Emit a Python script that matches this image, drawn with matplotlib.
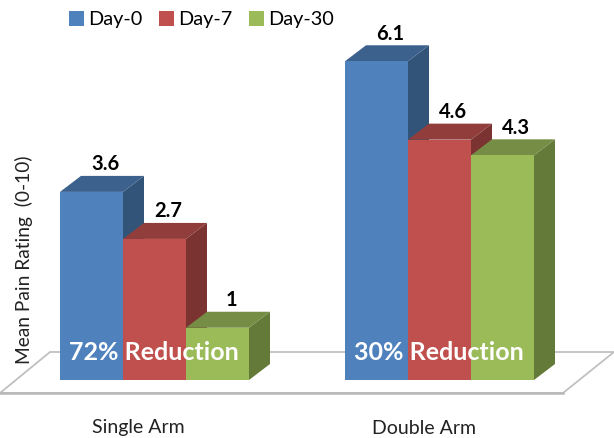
import matplotlib.pyplot as plt
from matplotlib.patches import Polygon

groups = ['Single Arm', 'Double Arm']
series = ['Day-0', 'Day-7', 'Day-30']
single_arm = [3.6, 2.7, 1]
double_arm = [6.1, 4.6, 4.3]
reductions = ['72% Reduction', '30% Reduction']
colors = ['#4f81bd', '#c0504d', '#9bbb59']
side_colors = ['#335479', '#7b3331', '#647a39']
top_colors = ['#3c618d', '#903d3b', '#758d44']

# px per data unit
PX_X = 63.0
PX_Y = 52.25
GROUP_STEP = 285 / PX_X
DX = 21 / PX_X
DY = 16 / PX_Y

plt.rcParams['font.family'] = ['Lato', 'DejaVu Sans']

fig = plt.figure(figsize=(6.14, 4.38), dpi=100)
ax = fig.add_axes([0, 0, 1, 1])
ax.set_xlim(-60 / PX_X, 554 / PX_X)
ax.set_ylim(-58 / PX_Y, 380 / PX_Y)
ax.axis('off')

# floor
floor = Polygon([((0 - 60) / PX_X, -13 / PX_Y), ((50 - 60) / PX_X, 28 / PX_Y),
                 ((614 - 60) / PX_X, 28 / PX_Y), ((563 - 60) / PX_X, -13 / PX_Y)],
                closed=True, facecolor='white', edgecolor='#c0c0c0', lw=1.3, zorder=1)
ax.add_patch(floor)
ax.plot([-60 / PX_X, 503 / PX_X], [-13 / PX_Y, -13 / PX_Y], color='#b8b8b8', lw=1.8, zorder=1)

for g, values in enumerate([single_arm, double_arm]):
    # right bars go under left ones
    for i in range(2, -1, -1):
        x0 = g * GROUP_STEP + i
        h = values[i]
        ax.add_patch(Polygon([(x0 + 1, 0), (x0 + 1 + DX, DY), (x0 + 1 + DX, h + DY), (x0 + 1, h)],
                             closed=True, facecolor=side_colors[i], edgecolor='none', zorder=2 + i * 0.1))
        ax.add_patch(Polygon([(x0, h), (x0 + DX, h + DY), (x0 + 1 + DX, h + DY), (x0 + 1, h)],
                             closed=True, facecolor=top_colors[i], edgecolor='none', zorder=3 + i * 0.1))
        ax.bar(x0, h, width=1, align='edge', color=colors[i], zorder=4 + i * 0.1)
        ax.text(x0 + 0.5 + 14 / PX_X, h + DY + 1.5 / PX_Y, str(h), ha='center', va='bottom',
                fontsize=14.5, fontweight='bold', color='black', zorder=6)
    ax.text(g * GROUP_STEP + 1.49, 27 / PX_Y, reductions[g], ha='center', va='center',
            fontsize=18, fontweight='bold', color='white', zorder=7)
    ax.text(g * GROUP_STEP + 1.25, -48 / PX_Y, groups[g], ha='center', va='center',
            fontsize=14, color='#222222')

ax.text(-36 / PX_X, 120 / PX_Y, 'Mean Pain Rating  (0-10)', rotation=90, ha='center', va='center',
        fontsize=13.8, color='#222222')

handles = [plt.Rectangle((0, 0), 1, 1, facecolor=c) for c in colors]
ax.legend(handles, series, ncol=3, loc='upper left', bbox_to_anchor=(63 / 614, 1 - 5 / 438),
          frameon=False, fontsize=14.3, handlelength=0.75, handleheight=0.75,
          handletextpad=0.2, columnspacing=0.85, borderpad=0.3, borderaxespad=0)

fig.savefig('out.png', dpi=100)
